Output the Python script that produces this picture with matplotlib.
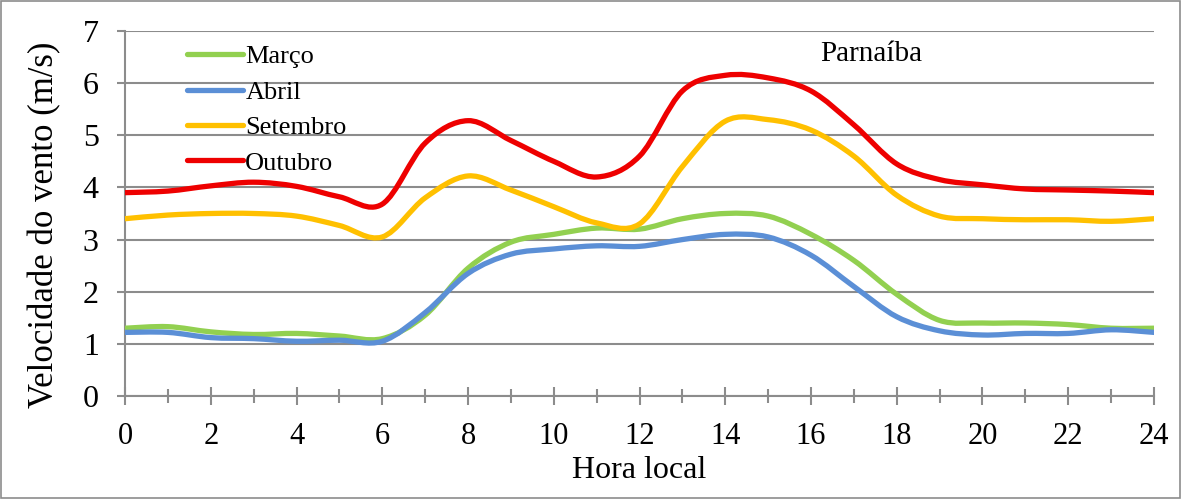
import numpy as np
import matplotlib.pyplot as plt
from matplotlib.path import Path
from matplotlib.patches import PathPatch, Rectangle
from matplotlib.lines import Line2D

plt.rcParams['font.family'] = ['Liberation Serif', 'DejaVu Serif']

# Dados (velocidade média do vento, m/s)
horas = np.arange(0, 25)
marco = [1.30, 1.33, 1.23, 1.18, 1.20, 1.15, 1.10, 1.55, 2.45, 2.95, 3.10, 3.22, 3.20,
         3.40, 3.50, 3.45, 3.10, 2.60, 1.95, 1.45, 1.40, 1.40, 1.37, 1.30, 1.30]
abril = [1.22, 1.22, 1.12, 1.10, 1.05, 1.07, 1.05, 1.60, 2.35, 2.72, 2.82, 2.88, 2.87,
         3.00, 3.10, 3.05, 2.70, 2.10, 1.52, 1.25, 1.17, 1.20, 1.20, 1.27, 1.22]
setembro = [3.40, 3.47, 3.50, 3.50, 3.45, 3.27, 3.05, 3.80, 4.22, 3.95, 3.63, 3.32, 3.30,
            4.40, 5.27, 5.30, 5.10, 4.60, 3.85, 3.45, 3.40, 3.38, 3.38, 3.35, 3.40]
outubro = [3.90, 3.93, 4.03, 4.10, 4.02, 3.82, 3.68, 4.85, 5.28, 4.90, 4.50, 4.20, 4.60,
           5.85, 6.15, 6.10, 5.85, 5.20, 4.45, 4.15, 4.05, 3.97, 3.95, 3.93, 3.90]

series = [('Março', marco, '#92D050'),
          ('Abril', abril, '#5B8FD6'),
          ('Setembro', setembro, '#FFC000'),
          ('Outubro', outubro, '#EE0000')]


def suave(x, y):
    # linha suavizada estilo Excel (curvas de Bezier entre os pontos)
    p = np.column_stack([x, y]).astype(float)
    n = len(p)
    verts = [p[0]]
    codes = [Path.MOVETO]
    for i in range(n - 1):
        p0 = p[i - 1] if i > 0 else p[i]
        p3 = p[i + 2] if i + 2 < n else p[i + 1]
        c1 = p[i] + (p[i + 1] - p0) / 6
        c2 = p[i + 1] - (p3 - p[i]) / 6
        verts += [c1, c2, p[i + 1]]
        codes += [Path.CURVE4] * 3
    return Path(verts, codes)


fig = plt.figure(figsize=(11.82, 4.99), dpi=100)
ax = fig.add_axes([0.1058, 0.2064, 0.8705, 0.7315])

handles = []
for nome, vals, cor in series:
    patch = PathPatch(suave(horas, vals), facecolor='none', edgecolor=cor,
                      lw=3.8, capstyle='round', joinstyle='round', zorder=3)
    ax.add_patch(patch)
    handles.append(Line2D([], [], color=cor, lw=3.8, solid_capstyle='round', label=nome))

ax.set_xlim(0, 24)
ax.set_ylim(0, 7)
ax.set_xticks(range(0, 25, 2))
ax.set_xticks(range(1, 25, 2), minor=True)
ax.set_yticks(range(0, 8))
ax.yaxis.grid(True, color='#8C8C8C', lw=1.5)
ax.set_axisbelow(True)
for s in ['top', 'right']:
    ax.spines[s].set_visible(False)
for s in ['left', 'bottom']:
    ax.spines[s].set_color('#8C8C8C')
    ax.spines[s].set_linewidth(1.5)
ax.tick_params(axis='x', which='major', direction='inout', length=13, width=1.5,
               color='#8C8C8C', labelsize=22, pad=12)
ax.tick_params(axis='x', which='minor', direction='inout', length=10, width=1.5,
               color='#8C8C8C')
ax.tick_params(axis='y', direction='out', length=6, width=1.5, color='#8C8C8C',
               labelsize=23, pad=13)

ax.set_xlabel('Hora local', fontsize=23, labelpad=4)
ax.set_ylabel('Velocidade do vento (m/s)', fontsize=25)
ax.yaxis.set_label_coords(-0.062, 0.47)
ax.text(17.4, 6.55, 'Parnaíba', fontsize=21, ha='center', va='center')

ax.legend(handles=handles, loc='upper left', bbox_to_anchor=(0.045, 1.005), frameon=False,
          fontsize=19, handlelength=2.1, handletextpad=0.1, labelspacing=0.45,
          borderaxespad=0.2)

fig.patches.append(Rectangle((0.001, 0.002), 0.997, 0.996, transform=fig.transFigure,
                             fill=False, edgecolor='#8C8C8C', lw=1.2))

fig.savefig('out.png', dpi=100)
